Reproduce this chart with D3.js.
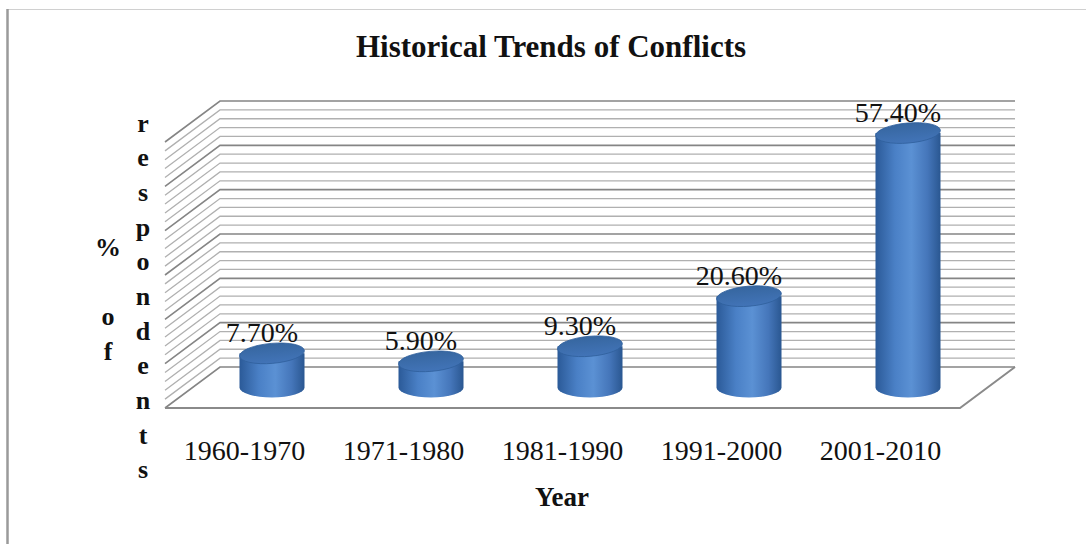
<!DOCTYPE html>
<html>
<head>
<meta charset="utf-8">
<script src="https://cdn.jsdelivr.net/npm/d3@7"></script>
<style>
  html, body { margin: 0; padding: 0; background: #fff; }
  svg { display: block; }
  text { font-family: "Liberation Serif", "Times New Roman", serif; fill: #111; }
</style>
</head>
<body>
<svg id="chart" width="1086" height="544"></svg>
<script>
// Chart data
const categories = ["1960-1970", "1971-1980", "1981-1990", "1991-2000", "2001-2010"];
const values = [7.7, 5.9, 9.3, 20.6, 57.4];
const valueLabels = ["7.70%", "5.90%", "9.30%", "20.60%", "57.40%"];
const axisMax = 60;
const titleText = "Historical Trends of Conflicts";
const xTitle = "Year";
const yTitleLeft = ["%", "", "o", "f"];
const yTitleRight = ["r", "e", "s", "p", "o", "n", "d", "e", "n", "t", "s"];

const svg = d3.select("#chart");

// 3D box geometry: front floor edge, back wall, and depth offset
const front = { x0: 165, x1: 960, y: 408 };
const depth = { dx: 55, dy: -41 };
const backTop = 101;

// value scale on the back wall
const yBack = d3.scaleLinear().domain([0, axisMax]).range([front.y + depth.dy, backTop]);
// category scale along the front edge
const xFront = d3.scaleBand().domain(categories).range([front.x0, front.x1]);

// frame
svg.append("line").attr("x1", 7).attr("x2", 1086).attr("y1", 9.5).attr("y2", 9.5)
  .attr("stroke", "#d0d0d0").attr("stroke-width", 1);
svg.append("line").attr("x1", 7.5).attr("x2", 7.5).attr("y1", 9).attr("y2", 544)
  .attr("stroke", "#9a9a9a").attr("stroke-width", 2.5);

// gridlines: back wall + left wall, minor every 2, major every 10
const ticks = yBack.ticks(30);
const grid = svg.append("g");
ticks.forEach(t => {
  const y = yBack(t);
  const major = t % 10 === 0;
  const col = major ? "#858585" : "#b0b0b0";
  const bx0 = front.x0 + depth.dx;
  grid.append("path")
    .attr("d", `M${front.x0},${y - depth.dy} L${bx0},${y} L${front.x1 + depth.dx},${y}`)
    .attr("fill", "none").attr("stroke", col).attr("stroke-width", major ? 1.6 : 1.3);
});

// floor edges
svg.append("path")
  .attr("d", `M${front.x0},${front.y} L${front.x1},${front.y} L${front.x1 + depth.dx},${front.y + depth.dy}`)
  .attr("fill", "none").attr("stroke", "#8a8a8a").attr("stroke-width", 2);

// gradients for cylinders
const defs = svg.append("defs");
const gBody = defs.append("linearGradient").attr("id", "body").attr("x1", 0).attr("x2", 1).attr("y1", 0).attr("y2", 0);
[[0, "#2b5a98"], [0.3, "#4a80c6"], [0.55, "#5b91d4"], [0.8, "#4576ba"], [1, "#2a5791"]]
  .forEach(([o, c]) => gBody.append("stop").attr("offset", o).attr("stop-color", c));
const gTop = defs.append("linearGradient").attr("id", "top").attr("x1", 0).attr("x2", 0).attr("y1", 0).attr("y2", 1);
[[0, "#36669f"], [1, "#4274b8"]]
  .forEach(([o, c]) => gTop.append("stop").attr("offset", o).attr("stop-color", c));

// cylinders sit halfway into the depth of the box
const midDx = depth.dx / 2, midDy = depth.dy / 2;
const yMid = v => yBack(v) - midDy;
const rx = 32.5, ry = 10;

const bars = svg.append("g").selectAll("g").data(values).join("g");
bars.each(function (v, i) {
  const g = d3.select(this);
  const cx = xFront(categories[i]) + xFront.bandwidth() / 2 + midDx;
  const yb = yMid(0), yt = yMid(v);
  g.append("path")
    .attr("d", `M${cx - rx},${yt} L${cx - rx},${yb} A${rx},${ry} 0 0 0 ${cx + rx},${yb} L${cx + rx},${yt} Z`)
    .attr("fill", "url(#body)");
  g.append("ellipse")
    .attr("cx", cx).attr("cy", yt).attr("rx", rx).attr("ry", ry)
    .attr("transform", `rotate(-5 ${cx} ${yt})`)
    .attr("fill", "url(#top)").attr("stroke", "#2f5f9c").attr("stroke-width", 0.8);
  g.append("text")
    .attr("x", cx - 10).attr("y", yt - ry - 1)
    .attr("text-anchor", "middle").attr("font-size", 28)
    .text(valueLabels[i]);
});

// category labels along the front edge
svg.append("g").selectAll("text").data(categories).join("text")
  .attr("x", d => xFront(d) + xFront.bandwidth() / 2)
  .attr("y", 460)
  .attr("text-anchor", "middle").attr("font-size", 28)
  .text(d => d);

// titles
svg.append("text").attr("x", 551).attr("y", 57).attr("text-anchor", "middle")
  .attr("font-size", 31).attr("font-weight", "bold").text(titleText);
svg.append("text").attr("x", 562).attr("y", 506).attr("text-anchor", "middle")
  .attr("font-size", 27).attr("font-weight", "bold").text(xTitle);

// stacked y-axis title letters
svg.append("g").selectAll("text").data(yTitleLeft).join("text")
  .attr("x", 108).attr("y", (d, i) => 256 + i * 34.7)
  .attr("text-anchor", "middle").attr("font-size", 26).attr("font-weight", "bold")
  .text(d => d);
svg.append("g").selectAll("text").data(yTitleRight).join("text")
  .attr("x", 143).attr("y", (d, i) => 131.7 + i * 34.65)
  .attr("text-anchor", "middle").attr("font-size", 26).attr("font-weight", "bold")
  .text(d => d);
</script>
</body>
</html>
